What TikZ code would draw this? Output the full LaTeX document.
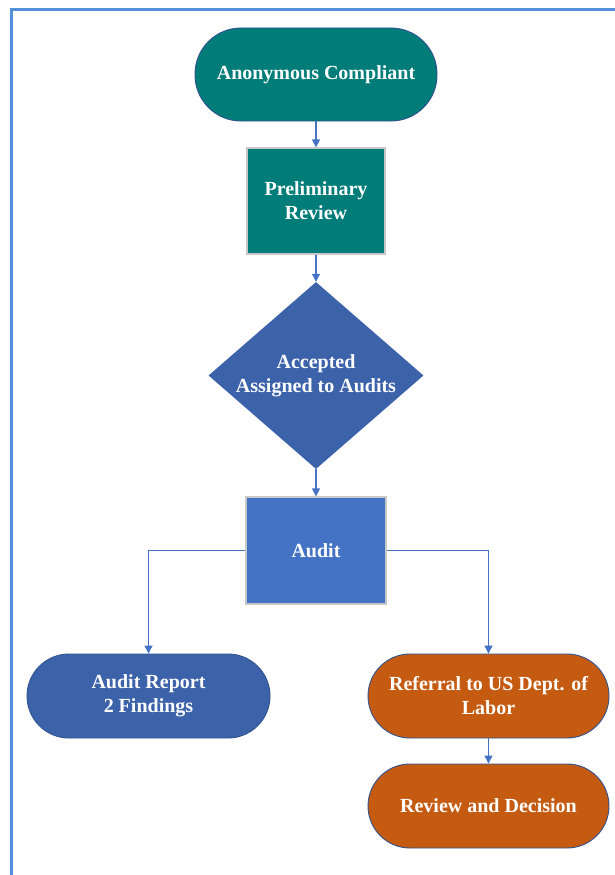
\documentclass[tikz,border=0pt]{standalone}
\usepackage{fontspec}
\setmainfont{Liberation Serif}
\usetikzlibrary{shapes.geometric,arrows.meta}
\definecolor{tealc}{RGB}{0,124,121}
\definecolor{bluedark}{RGB}{60,98,170}
\definecolor{bluemid}{RGB}{68,114,196}
\definecolor{orangec}{RGB}{197,90,17}
\definecolor{framec}{RGB}{80,145,215}
\definecolor{edgec}{RGB}{47,82,143}
\definecolor{grayedge}{RGB}{200,200,200}
\tikzset{
  txt/.style={text=white, font=\fontsize{20}{24}\selectfont\bfseries, align=center},
  stadium/.style={txt, draw=edgec, line width=0.9pt, rectangle, rounded corners=#1, inner sep=0pt},
  boxrect/.style={txt, draw=grayedge, line width=1.2pt, rectangle, inner sep=0pt},
  conn/.style={draw=bluemid, line width=1.1pt, -{Triangle[width=8pt,length=8pt]}},
  frameline/.style={draw=framec, line width=2.2pt}
}
\begin{document}
\begin{tikzpicture}[x=1pt,y=-1pt]
\useasboundingbox (0,0) rectangle (615,875);
\draw[frameline] (11.5,875) -- (11.5,9.5) -- (615,9.5);

\node[stadium=46pt, fill=tealc, minimum width=242pt, minimum height=93pt] (anon) at (316,74.5) {Anonymous Compliant};
\node[boxrect, fill=tealc, minimum width=138pt, minimum height=106pt] (prelim) at (316,201) {Preliminary\\Review};
\node[diamond, fill=bluedark, draw=none, inner sep=0pt, minimum width=215pt, minimum height=187pt,
      label={[txt]center:{Accepted\\Assigned to Audits}}] (acc) at (316,375.5) {};
\node[boxrect, fill=bluemid, minimum width=140pt, minimum height=107pt] (audit) at (316,550.5) {Audit};
\node[stadium=42pt, fill=bluedark, minimum width=243pt, minimum height=84pt] (report) at (148.5,696) {Audit Report\\2 Findings};
\node[stadium=42pt, fill=orangec, minimum width=241pt, minimum height=84pt] (referral) at (488.5,696) {Referral to US Dept. of\\Labor};
\node[stadium=42pt, fill=orangec, minimum width=241pt, minimum height=84pt] (review) at (488.5,806) {Review and Decision};

\draw[conn] (anon) -- (prelim);
\draw[conn] (prelim) -- (acc);
\draw[conn] (acc) -- (audit);
\draw[conn] (audit.west) -| (report.north);
\draw[conn] (audit.east) -| (referral.north);
\draw[conn] (referral) -- (review);
\end{tikzpicture}
\end{document}
